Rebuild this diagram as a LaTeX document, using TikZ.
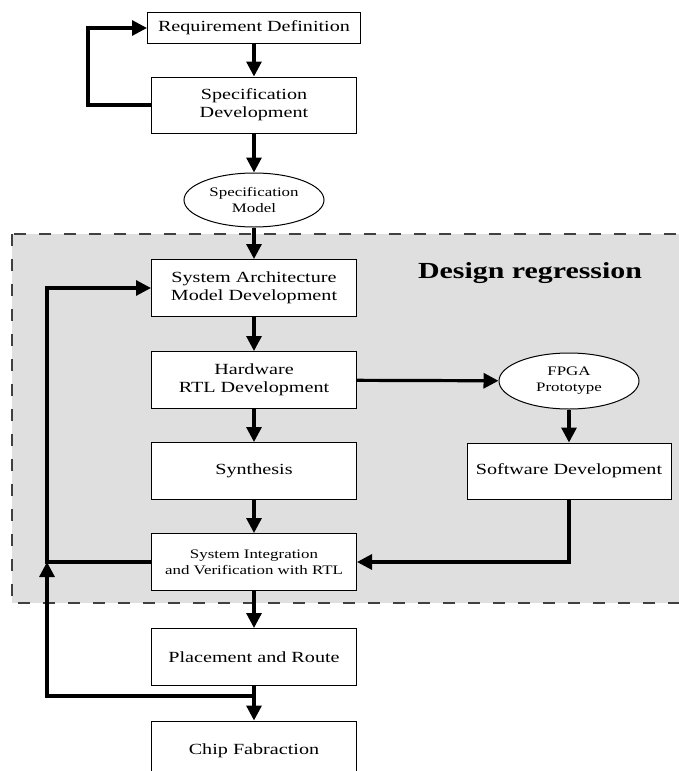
\documentclass[tikz,border=0pt]{standalone}
\usepackage{fontspec}
\setmainfont{Liberation Serif}[FakeStretch=1.3]
\usetikzlibrary{arrows.meta,shapes.geometric}
\definecolor{regiongray}{HTML}{DFDFDF}
\begin{document}
\begin{tikzpicture}[x=1pt,y=-1pt,
  box/.style={draw, line width=1pt, fill=white, minimum width=205pt, minimum height=57pt,
    align=center, inner sep=0pt, font=\fontsize{15.5}{18}\selectfont},
  smalltext/.style={font=\fontsize{13}{16}\selectfont},
  oval/.style={ellipse, draw, line width=1pt, fill=white, inner sep=0pt, align=center,
    font=\fontsize{13}{16}\selectfont},
  flow/.style={line width=3.2pt, -{Triangle[length=15pt,width=15pt]}},
  link/.style={line width=3.2pt}]
\fill[white] (0,0) rectangle (678,771);
\useasboundingbox (0,0) rectangle (678,771);
\draw[fill=regiongray, draw=black!75, line width=1.3pt, dash pattern=on 12pt off 13pt]
  (12,234) rectangle (700,603);

\node[box, minimum width=213pt, minimum height=31pt] (rd) at (254,28) {Requirement Definition};
\node[box, minimum height=56pt] (sd) at (254,105) {Specification\\Development};
\node[oval, minimum width=140pt, minimum height=54pt] (sm) at (254,200) {Specification\\Model};
\node[box] (sa) at (254,288) {System Architecture\\Model Development};
\node[box] (hw) at (254,380) {Hardware\\RTL Development};
\node[box] (syn) at (254,471) {Synthesis};
\node[box, smalltext] (si) at (254,562) {System Integration\\and Verification with RTL};
\node[box] (pr) at (254,657) {Placement and Route};
\node[box, minimum height=60pt] (cf) at (254,751) {Chip Fabraction};
\node[oval, minimum width=140pt, minimum height=56pt] (fp) at (569,381) {FPGA\\Prototype};
\node[box, minimum width=204pt, minimum height=56pt] (sw) at (569,471) {Software Development};
\node[font=\bfseries\fontsize{23}{26}\selectfont] (dr) at (530,273) {Design regression};

\coordinate (l1) at (88,105);
\coordinate (l2) at (47,562);
\coordinate (j) at (254,696);
\coordinate (l3) at (47,696);

\draw[flow] (rd) -- (sd);
\draw[flow] (sd) -- (sm);
\draw[flow] (sm) -- (sa);
\draw[flow] (sa) -- (hw);
\draw[flow] (hw) -- (syn);
\draw[flow] (syn) -- (si);
\draw[flow] (si) -- (pr);
\draw[flow] (pr) -- (cf);
\draw[flow] (hw) -- (fp);
\draw[flow] (fp) -- (sw);
\draw[flow] (sd.west) -- (l1) |- (rd.west);
\draw[flow] (si.west) -- (l2) |- (sa.west);
\draw[flow] (sw.south) |- (si.east);
\draw[flow] (j) -- (l3) -- (l2);
\end{tikzpicture}
\end{document}
